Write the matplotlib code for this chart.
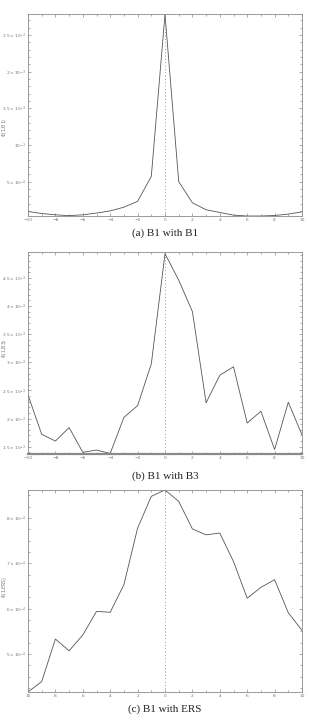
import numpy as np
import matplotlib
matplotlib.use('Agg')
import matplotlib.pyplot as plt
from matplotlib.ticker import MultipleLocator, FixedLocator, FixedFormatter

# lag (ps)
lags = list(range(-10, 11))

# (a) B1 with B1
phi_b1b1 = [0.091e-3, 0.064e-3, 0.046e-3, 0.035e-3, 0.046e-3, 0.070e-3, 0.100e-3,
            0.150e-3, 0.230e-3, 0.570e-3, 2.78e-3, 0.500e-3, 0.210e-3, 0.115e-3,
            0.078e-3, 0.042e-3, 0.030e-3, 0.030e-3, 0.037e-3, 0.056e-3, 0.087e-3]
# (b) B1 with B3
phi_b1b3 = [2.42e-3, 1.72e-3, 1.60e-3, 1.84e-3, 1.40e-3, 1.44e-3, 1.38e-3,
            2.02e-3, 2.23e-3, 2.97e-3, 4.93e-3, 4.46e-3, 3.90e-3, 2.28e-3,
            2.77e-3, 2.92e-3, 1.92e-3, 2.13e-3, 1.45e-3, 2.29e-3, 1.71e-3]
# (c) B1 with ERS
phi_b1ers = [4.16e-4, 4.39e-4, 5.33e-4, 5.07e-4, 5.42e-4, 5.94e-4, 5.92e-4,
             6.53e-4, 7.78e-4, 8.48e-4, 8.62e-4, 8.37e-4, 7.76e-4, 7.63e-4,
             7.67e-4, 7.04e-4, 6.23e-4, 6.47e-4, 6.64e-4, 5.91e-4, 5.52e-4]

xticks = [-10, -8, -6, -4, -2, 0, 2, 4, 6, 8, 10]
xlabels_ab = ['\u221210', '\u22128', '\u22126', '\u22124', '\u22122', '0', '2', '4', '6', '8', '10']
xlabels_c = ['10', '8', '6', '4', '2', '0', '2', '4', '6', '8', '10']

yt_a = [0.5e-3, 1e-3, 1.5e-3, 2e-3, 2.5e-3]
yl_a = [r'$5\times10^{-4}$', r'$10^{-3}$', r'$1.5\times10^{-3}$', r'$2\times10^{-3}$', r'$2.5\times10^{-3}$']
yt_b = [1.5e-3, 2e-3, 2.5e-3, 3e-3, 3.5e-3, 4e-3, 4.5e-3]
yl_b = [r'$1.5\times10^{-3}$', r'$2\times10^{-3}$', r'$2.5\times10^{-3}$', r'$3\times10^{-3}$',
        r'$3.5\times10^{-3}$', r'$4\times10^{-3}$', r'$4.5\times10^{-3}$']
yt_c = [5e-4, 6e-4, 7e-4, 8e-4]
yl_c = [r'$5\times10^{-4}$', r'$6\times10^{-4}$', r'$7\times10^{-4}$', r'$8\times10^{-4}$']

captions = ['(a) B1 with B1', '(b) B1 with B3', '(c) B1 with ERS']
ylabels = [r'$\Phi$(1,B1)', r'$\Phi$(1,B3)', r'$\Phi$(1,ERS)']
ylabel_pos = [0.44, 0.524, 0.52]

fig = plt.figure(figsize=(3.09, 7.22), dpi=100)

W, H = 309.0, 722.0
panels = [
    (phi_b1b1, (0.03e-3, 2.785e-3), yt_a, yl_a, 1e-4, xlabels_ab, 14, 216, 233),
    (phi_b1b3, (1.37e-3, 4.96e-3), yt_b, yl_b, 1e-4, xlabels_ab, 252, 454, 476),
    (phi_b1ers, (4.16e-4, 8.62e-4), yt_c, yl_c, 2.5e-5, xlabels_c, 490, 692, 709),
]

line_col = '#555555'
ax_col = '#8a8a8a'

for i, (vals, ylim, yt, yl, yminor, xl, top, bot, cap_y) in enumerate(panels):
    ax = fig.add_axes([28 / W, 1 - bot / H, 274 / W, (bot - top) / H])
    ax.plot(lags, vals, color=line_col, lw=0.6)
    ax.axvline(0, color='#777777', lw=0.6, ls=(0, (1, 3)))
    ax.set_xlim(-10, 10)
    ax.set_ylim(*ylim)
    ax.xaxis.set_major_locator(FixedLocator(xticks))
    ax.xaxis.set_major_formatter(FixedFormatter(xl))
    ax.xaxis.set_minor_locator(MultipleLocator(1))
    ax.yaxis.set_major_locator(FixedLocator(yt))
    ax.yaxis.set_major_formatter(FixedFormatter(yl))
    ax.yaxis.set_minor_locator(MultipleLocator(yminor))
    ax.tick_params(which='both', direction='in', top=True, right=True,
                   color=ax_col, width=0.5, labelsize=3.2, labelcolor='#777777', pad=1.5)
    ax.tick_params(which='major', length=2.5)
    ax.tick_params(which='minor', length=1.3)
    for s in ax.spines.values():
        s.set_color(ax_col)
        s.set_linewidth(0.6)
    if i == 1:
        ax.spines['bottom'].set_linewidth(1.6)
    ax.set_ylabel(ylabels[i], fontsize=3.3, color='#777777')
    ax.yaxis.set_label_coords(-0.07, ylabel_pos[i])
    fig.text(165 / W, 1 - cap_y / H, captions[i], ha='center', va='center',
             fontsize=8, family='Liberation Serif', color='#222222')

fig.savefig('out.png', dpi=100)
